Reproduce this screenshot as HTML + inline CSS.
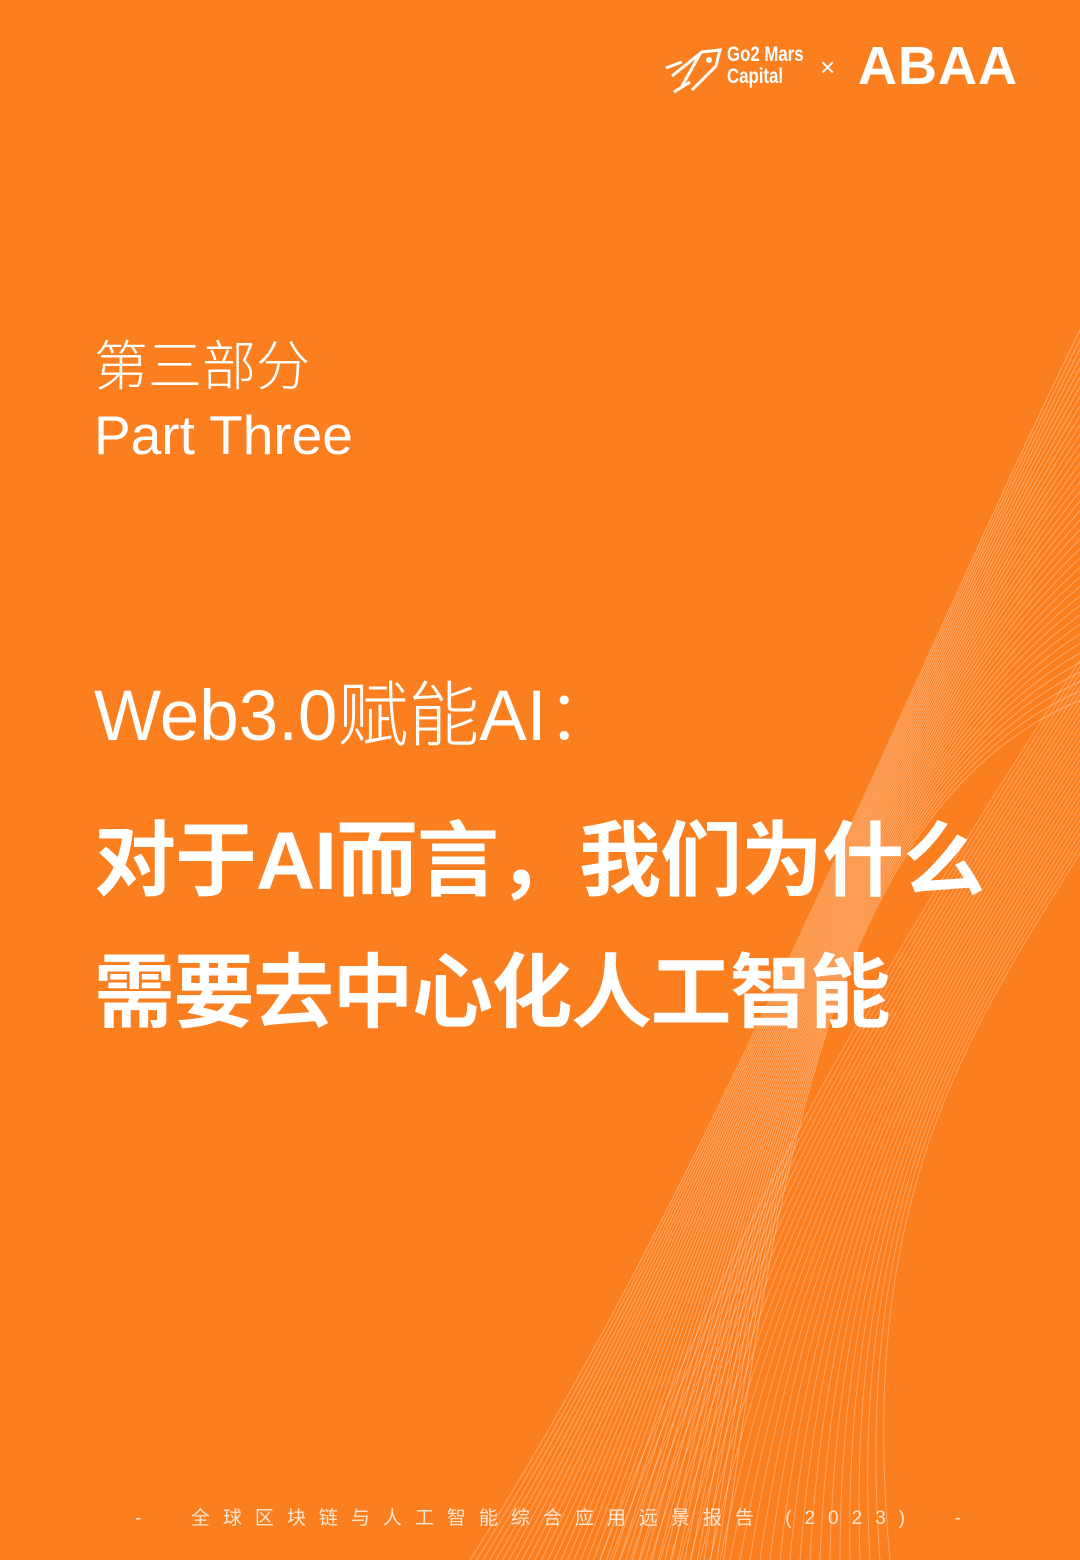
<!DOCTYPE html>
<html><head><meta charset="utf-8"><style>
html,body{margin:0;padding:0}
body{width:1080px;height:1560px;background:#FB7E1F;position:relative;overflow:hidden;font-family:"Liberation Sans","Noto Sans CJK SC",sans-serif;color:#fff}
.t{position:absolute;white-space:nowrap}
</style></head><body>
<svg id="waves" width="1080" height="1560" style="position:absolute;left:0;top:0"></svg>

<div class="t" style="left:662px;top:44px;">
<svg width="60" height="48" viewBox="0 0 60 48" style="position:absolute;left:0;top:2px"><path d="M10 30 L40 6 L58 4 L54 20 L30 44 M38 8 L20 40 M4 22 L20 16 M12 46 L28 36" stroke="#fff" stroke-width="3" fill="none"/><circle cx="47" cy="14" r="3" fill="#fff"/></svg>
<div style="position:absolute;left:65px;top:0;font:bold 21px/22px 'Liberation Sans',sans-serif;transform:scaleX(0.8);transform-origin:left">Go2 Mars<br>Capital</div>
</div>
<div class="t" style="left:820px;top:52px;font-size:26px;">×</div>
<div class="t" style="left:858px;top:36px;font:900 54px/60px 'Liberation Sans',sans-serif;letter-spacing:1px;">ABAA</div>

<div class="t" style="left:94px;top:334px;font-size:54px;font-weight:300;line-height:66px">第三部分</div>
<div class="t" style="left:94px;top:402px;font-size:55px;line-height:66px;font-weight:300">Part Three</div>
<div class="t" style="left:94px;top:672px;font-size:71px;line-height:90px;font-weight:300">Web3.0赋能AI：</div>
<div class="t" style="left:94px;top:812px;font-size:82px;line-height:100px;font-weight:bold;letter-spacing:-1px">对于AI而言，我们为什么</div>
<div class="t" style="left:94px;top:944px;font-size:81px;line-height:100px;font-weight:bold;letter-spacing:-1.5px">需要去中心化人工智能</div>

<div class="t" style="left:135px;top:1504px;font-size:19px;line-height:30px;letter-spacing:13px;opacity:0.8">-&nbsp; 全球区块链与人工智能综合应用远景报告 (2023) &nbsp;-</div>

<script>
const svg=document.getElementById('waves');
const ns='http://www.w3.org/2000/svg';
for(let i=0;i<40;i++){
  const p=document.createElementNS(ns,'path');
  const k=i/40;
  const x0=470+k*260, y1=330+k*380;
  const d=`M${x0} 1560 C ${700+k*80} ${1200-k*50}, ${900-k*60} ${700+k*100}, 1080 ${y1}`;
  p.setAttribute('d',d);
  p.setAttribute('stroke','rgba(255,255,255,0.35)');
  p.setAttribute('stroke-width','1');
  p.setAttribute('fill','none');
  
  
  svg.appendChild(p);
}
for(let i=0;i<30;i++){
  const p=document.createElementNS(ns,'path');
  const k=i/30;
  const d=`M${600+k*300} 1560 C ${760+k*100} ${1150+k*60}, ${960} ${850+k*200}, 1080 ${660+k*200}`;
  p.setAttribute('d',d);
  p.setAttribute('stroke','rgba(255,255,255,0.3)');
  p.setAttribute('stroke-width','1');
  p.setAttribute('fill','none');
  
  
  svg.appendChild(p);
}
</script>
</body></html>
